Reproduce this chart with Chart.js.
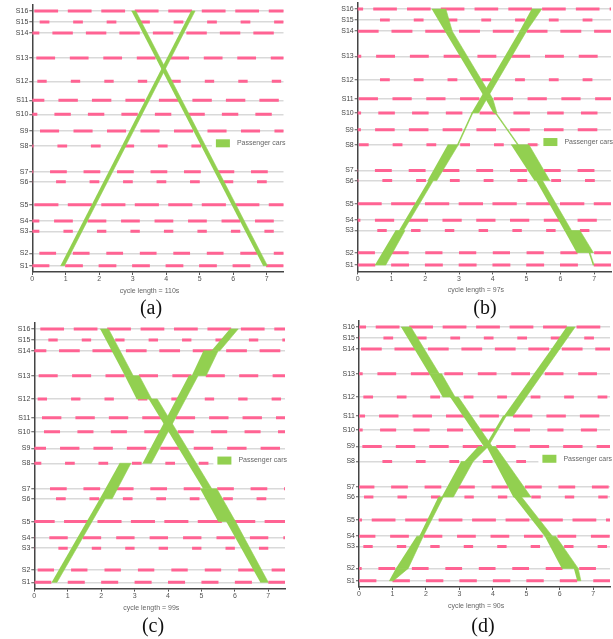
<!DOCTYPE html>
<html>
<head>
<meta charset="utf-8">
<script src="https://cdn.jsdelivr.net/npm/chart.js@4.4.1/dist/chart.umd.min.js"></script>
<style>
  body { margin: 0; background: #fff; width: 613px; height: 639px; position: relative; overflow: hidden; }
  canvas { position: absolute; }
  .cap { position: absolute; width: 60px; text-align: center; font: 20px "Liberation Serif", "Times New Roman", serif; line-height: 20px; color: #111; }
</style>
</head>
<body>
<canvas id="chart-a" width="300" height="300" style="left:0;top:0"></canvas>
<canvas id="chart-b" width="308" height="300" style="left:305px;top:0"></canvas>
<canvas id="chart-c" width="300" height="300" style="left:0;top:318px"></canvas>
<canvas id="chart-d" width="308" height="300" style="left:305px;top:318px"></canvas>
<div class="cap" style="left:121px;top:297px">(a)</div>
<div class="cap" style="left:455px;top:297px">(b)</div>
<div class="cap" style="left:123px;top:615px">(c)</div>
<div class="cap" style="left:453px;top:615px">(d)</div>
<script>
// stations along the corridor (distance units)
const stations = ["S1", "S2", "S3", "S4", "S5", "S6", "S7", "S8", "S9", "S10", "S11", "S12", "S13", "S14", "S15", "S16"];
const stationPos = [0, 37, 103, 134, 183, 252, 282, 359, 404, 454, 496, 553, 623, 698, 731, 764];
const xTicks = [0, 1, 2, 3, 4, 5, 6, 7];
const cycleLengths = [110, 97, 99, 90];

// red phase start (fraction of cycle) and length per station, S1..S16
const redStartA = [0.98, 0.21, 0.93, 0.65, 0.06, 0.71, 0.53, 0.75, 0.23, 0.66, 0.78, 0.15, 0.12, 0.60, 0.22, 0.06];
const redLengthA = [0.53, 0.50, 0.28, 0.56, 0.72, 0.29, 0.50, 0.29, 0.57, 0.49, 0.58, 0.28, 0.56, 0.61, 0.29, 0.71];
const redStartB = [0.99, 0.00, 0.58, 0.51, 0.99, 0.73, 0.51, 0.035, 0.515, 0.61, 0.03, 0.66, 0.545, 0.00, 0.66, 0.46];
const redLengthB = [0.53, 0.51, 0.28, 0.57, 0.72, 0.29, 0.50, 0.29, 0.58, 0.49, 0.57, 0.29, 0.56, 0.62, 0.29, 0.70];
const redStartC = [0.00, 0.10, 0.72, 0.45, 0.89, 0.65, 0.47, 0.92, 0.77, 0.29, 0.23, 0.10, 0.13, 0.74, 0.42, 0.18];
const redLengthC = [0.51, 0.49, 0.28, 0.55, 0.72, 0.29, 0.50, 0.29, 0.58, 0.48, 0.58, 0.28, 0.57, 0.62, 0.28, 0.71];
const redStartD = [0.00, 0.58, 0.13, 0.93, 0.38, 0.15, 0.96, 0.70, 0.10, 0.63, 0.60, 0.13, 0.55, 0.06, 0.73, 0.50];
const redLengthD = [0.52, 0.50, 0.28, 0.56, 0.71, 0.28, 0.50, 0.29, 0.58, 0.48, 0.58, 0.29, 0.56, 0.62, 0.29, 0.71];

// green bands: [from station, to station, left@from, right@from, left@to, right@to] (cycles)
const upBandA = [[1, 16, 0.84, 0.96, 4.74, 4.86]];
const downBandA = [[16, 1, 2.96, 3.09, 6.89, 7.02]];

const upBandB = [
  [1, 3, 0.51, 0.83, 1.12, 1.40],
  [3, 6, 1.22, 1.36, 2.10, 2.24],
  [6, 8, 2.07, 2.34, 2.665, 2.98],
  [8, 10, 2.94, 2.98, 3.37, 3.41],
  [10, 14, 3.37, 3.58, 4.79, 5.00],
  [14, 16, 4.79, 5.00, 5.15, 5.45],
];
const downBandB = [
  [16, 14, 2.19, 2.61, 2.58, 2.80],
  [14, 11, 2.58, 2.80, 3.78, 4.00],
  [11, 10, 3.78, 4.00, 4.02, 4.12],
  [10, 8, 4.06, 4.10, 4.72, 4.76],
  [8, 6, 4.54, 5.07, 5.23, 5.69],
  [6, 3, 5.28, 5.47, 6.12, 6.33],
  [3, 2, 6.12, 6.58, 6.485, 6.98],
  [2, 1, 6.84, 6.88, 6.96, 7.00],
];

const upBandC = [
  [1, 6, 0.52, 0.68, 1.96, 2.12],
  [6, 8, 1.96, 2.33, 2.55, 2.89],
  [8, 13, 3.24, 3.50, 4.62, 4.90],
  [13, 14, 4.71, 5.14, 5.06, 5.50],
  [14, 16, 5.30, 5.55, 5.85, 6.10],
];
const downBandC = [
  [16, 13, 1.97, 2.22, 2.71, 2.96],
  [13, 12, 2.71, 3.14, 3.06, 3.51],
  [12, 7, 3.42, 3.68, 5.05, 5.31],
  [7, 5, 4.96, 5.46, 5.50, 6.02],
  [5, 1, 5.74, 6.02, 6.76, 7.00],
];

const upBandD = [
  [1, 2, 0.90, 1.03, 1.10, 1.47],
  [2, 4, 1.10, 1.47, 1.72, 1.92],
  [4, 6, 1.80, 1.92, 2.37, 2.52],
  [6, 8, 2.47, 2.82, 3.05, 3.41],
  [8, 9, 3.15, 3.41, 3.56, 3.86],
  [9, 11, 3.76, 3.86, 4.30, 4.40],
  [11, 14, 4.33, 4.60, 5.75, 6.00],
  [14, 16, 5.75, 6.00, 6.20, 6.46],
];
const downBandD = [
  [16, 13, 1.255, 1.55, 2.10, 2.40],
  [13, 12, 2.10, 2.47, 2.50, 2.87],
  [12, 9, 2.72, 2.97, 3.73, 3.98],
  [9, 6, 3.81, 4.08, 4.61, 5.14],
  [6, 4, 4.63, 4.86, 5.55, 5.78],
  [4, 2, 5.55, 5.88, 6.06, 6.55],
  [2, 1, 6.42, 6.55, 6.52, 6.63],
];

const GREEN = "#92d050";
const PINK = "#ff6393";
const FONT = '"Liberation Sans", Arial, sans-serif';

Chart.defaults.font.family = FONT;
Chart.defaults.font.size = 7;

// red phases repeat every cycle
function dashPoints(starts, lengths) {
  const pts = [];
  stationPos.forEach((pos, i) => {
    for (let k = -1; k < 8; k++) {
      const a = k + starts[i];
      pts.push({ x: a, y: pos }, { x: a + lengths[i], y: pos }, { x: a, y: null });
    }
  });
  return pts;
}

function bandPoints(bands) {
  const pts = [];
  bands.forEach((segs) => {
    segs.forEach(([from, to, l0, r0, l1, r1]) => {
      const p0 = stationPos[from - 1];
      const p1 = stationPos[to - 1];
      pts.push({ x: l0, y: p0 }, { x: r0, y: p0 }, { x: r1, y: p1 }, { x: l1, y: p1 }, { x: l0, y: null });
    });
  });
  return pts;
}

// legend box over the S8 line + axis title
const overlay = {
  id: "overlay",
  afterDraw(chart, args, opts) {
    const { ctx, chartArea: a, scales } = chart;
    const yS8 = scales.y.getPixelForValue(stationPos[7]);
    const lx = a.right - 71.6;
    ctx.save();
    ctx.fillStyle = "#fff";
    ctx.fillRect(lx, yS8 - 4, chart.width - lx, 8);
    ctx.fillStyle = GREEN;
    ctx.fillRect(lx + 4, yS8 - 6.7, 14, 8);
    ctx.fillStyle = "#666";
    ctx.font = "7px " + FONT;
    ctx.textBaseline = "middle";
    ctx.textAlign = "left";
    ctx.fillText(chart.data.datasets[0].label, lx + 25, yS8 - 2.7);
    ctx.textAlign = "center";
    ctx.fillText(opts.title, (a.left + a.right) / 2 - 8.4, a.bottom + 19);
    ctx.restore();
  },
};

const panels = [
  { id: "chart-a", starts: redStartA, lengths: redLengthA, bands: [upBandA, downBandA], yWidth: 32.3, xHeight: 28, padTop: 5, padRight: 16.5 },
  { id: "chart-b", starts: redStartB, lengths: redLengthB, bands: [upBandB, downBandB], yWidth: 52.7, xHeight: 28.6, padTop: 3, padRight: 2 },
  { id: "chart-c", starts: redStartC, lengths: redLengthC, bands: [upBandC, downBandC], yWidth: 34.3, xHeight: 29.4, padTop: 5, padRight: 15 },
  { id: "chart-d", starts: redStartD, lengths: redLengthD, bands: [upBandD, downBandD], yWidth: 54, xHeight: 31, padTop: 3, padRight: 3 },
];

panels.forEach((p, idx) => {
  const ctx = document.getElementById(p.id).getContext("2d");
  new Chart(ctx, {
    type: "line",
    data: {
      datasets: [
        {
          label: "Passenger cars",
          data: bandPoints(p.bands),
          fill: "shape",
          backgroundColor: GREEN,
          borderColor: GREEN,
          borderWidth: 0.6,
          pointRadius: 0,
          tension: 0,
          spanGaps: false,
          clip: 0,
        },
        {
          label: "Red",
          data: dashPoints(p.starts, p.lengths),
          borderColor: PINK,
          borderWidth: 3,
          borderCapStyle: "butt",
          pointRadius: 0,
          fill: false,
          spanGaps: false,
          clip: 0,
        },
      ],
    },
    options: {
      responsive: false,
      animation: false,
      devicePixelRatio: 1,
      layout: { padding: { top: p.padTop, right: p.padRight, left: 0, bottom: 0 } },
      plugins: {
        legend: { display: false },
        tooltip: { enabled: false },
        overlay: { title: "cycle length = " + cycleLengths[idx] + "s" },
      },
      scales: {
        x: {
          type: "linear",
          min: 0,
          max: 7.5,
          afterBuildTicks: (s) => { s.ticks = xTicks.map((v) => ({ value: v })); },
          afterFit: (s) => { s.height = p.xHeight; s.paddingLeft = 0; s.paddingRight = 0; },
          grid: { drawOnChartArea: false, tickLength: 3, tickColor: "#555", tickWidth: 1 },
          border: { color: "#444", width: 1.5 },
          ticks: { color: "#555", padding: 0, maxRotation: 0, autoSkip: false },
        },
        y: {
          type: "linear",
          min: -19,
          max: 782,
          afterBuildTicks: (s) => { s.ticks = stationPos.map((v) => ({ value: v })); },
          afterFit: (s) => { s.width = p.yWidth; s.paddingTop = 0; s.paddingBottom = 0; },
          grid: { color: "#d9d9d9", lineWidth: 1.5, tickLength: 3, tickColor: "#555", tickWidth: 1 },
          border: { color: "#444", width: 1.5 },
          ticks: {
            color: "#444",
            padding: 1,
            autoSkip: false,
            callback: (v) => stations[stationPos.indexOf(v)],
          },
        },
      },
    },
    plugins: [overlay],
  });
});
</script>
</body>
</html>
